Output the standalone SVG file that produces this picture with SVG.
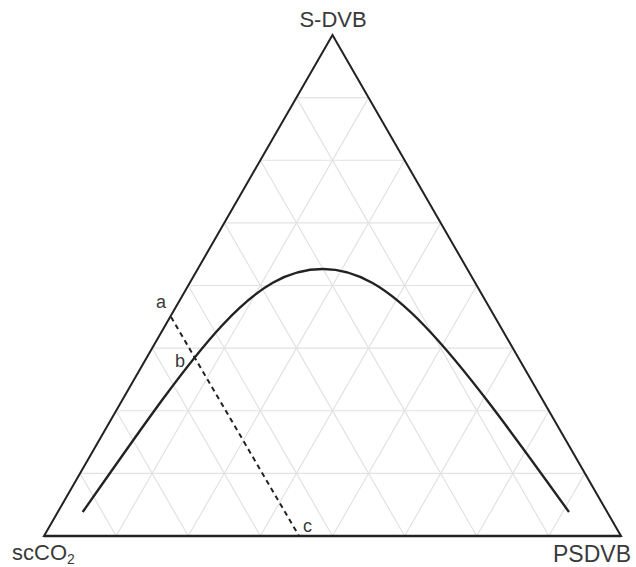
<svg xmlns="http://www.w3.org/2000/svg" width="636" height="567" viewBox="0 0 636 567">
<style>
.grid{stroke:#e2e2e2;stroke-width:1.2;fill:none}
.edge{stroke:#222;stroke-width:2;fill:none;stroke-linejoin:miter}
.curve{stroke:#222;stroke-width:2.4;fill:none}
.dash{stroke:#222;stroke-width:2;fill:none;stroke-dasharray:5,4}
.lbl{font-family:"Liberation Sans",Arial,sans-serif;fill:#3a3a3a}
</style>
<rect width="636" height="567" fill="#fff"/>
<g id="grid" class="grid">
<path d="M80.06 473.375H584.94M116.125 410.75H548.875M152.19 348.125H512.81M188.25 285.5H476.75M224.31 222.875H440.69M260.375 160.25H404.625M296.44 97.625H368.56"/>
<path d="M116.125 536L368.56 97.625M188.25 536L404.625 160.25M260.375 536L440.69 222.875M332.5 536L476.75 285.5M404.625 536L512.81 348.125M476.75 536L548.875 410.75M548.875 536L584.94 473.375"/>
<path d="M116.125 536L80.06 473.375M188.25 536L116.125 410.75M260.375 536L152.19 348.125M332.5 536L188.25 285.5M404.625 536L224.31 222.875M476.75 536L260.375 160.25M548.875 536L296.44 97.625"/>
</g>
<g id="triangle">
<path class="edge" d="M44 536L332.5 35L621 536Z"/>
<path d="M44 536H621" stroke="#222" stroke-width="2.6"/>
</g>
<g id="connectors">
<path id="binodal" class="curve" d="M82.7 512C201.7 342 252 269 323 269C390 269 447 342 569 512"/>
<path id="tieline" class="dash" d="M171 317L299 536"/>
</g>
<g id="labels">
<text class="lbl" x="333" y="27" font-size="22" text-anchor="middle">S-DVB</text>
<text class="lbl" x="592" y="562" font-size="23" text-anchor="middle">PSDVB</text>
<text class="lbl" x="12" y="560" font-size="22">scCO<tspan font-size="14" dy="4">2</tspan></text>
<text class="lbl" x="156" y="308" font-size="18">a</text>
<text class="lbl" x="175" y="367" font-size="18">b</text>
<text class="lbl" x="303" y="532" font-size="18">c</text>
</g>
</svg>
